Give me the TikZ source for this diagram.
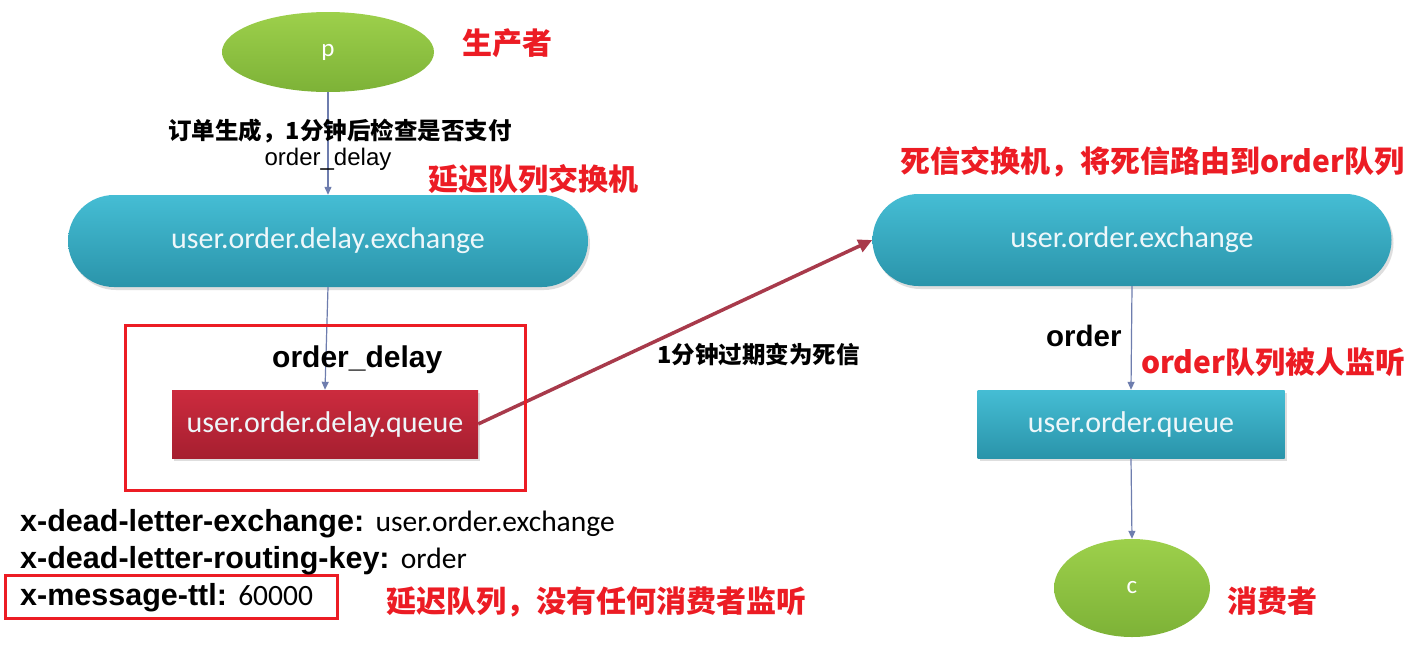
\documentclass[tikz,border=0pt]{standalone}
\usepackage{fontspec}
\setmainfont{Liberation Sans}
\newfontfamily\cjk{Noto Sans CJK SC}
\newfontfamily\calfont{Carlito}
\usetikzlibrary{shapes.geometric,arrows.meta,shadows}
\definecolor{tealA}{HTML}{45BDD4}
\definecolor{tealB}{HTML}{2A94AA}
\definecolor{redA}{HTML}{CC2B3E}
\definecolor{redB}{HTML}{A61F30}
\definecolor{greenA}{HTML}{9DD04B}
\definecolor{greenB}{HTML}{7DB237}
\definecolor{hlred}{HTML}{EC1C24}
\definecolor{thinarrow}{HTML}{6E7DAE}
\definecolor{deadarrow}{HTML}{A83A4B}
\definecolor{nodetext}{HTML}{EEF7FA}
\tikzset{
  pill/.style={rectangle, rounded corners=46pt, minimum width=520pt, minimum height=92pt,
    top color=tealA, bottom color=tealB, draw=none, text=nodetext,
    font=\calfont\fontsize{30}{34}\selectfont,
    drop shadow={shadow xshift=2pt, shadow yshift=-3pt, fill=black!25, opacity=.5}},
  qbox/.style={rectangle, minimum height=68pt, draw=none, text=nodetext,
    font=\calfont\fontsize{30}{34}\selectfont,
    drop shadow={shadow xshift=2pt, shadow yshift=-3pt, fill=black!25, opacity=.5}},
  client/.style={ellipse, top color=greenA, bottom color=greenB, draw=none, text=white,
    font=\calfont\fontsize{25}{28}\selectfont},
  flow/.style={draw=thinarrow, line width=1.2pt, -{Triangle[length=8pt,width=7pt]}},
  redlabel/.style={text=hlred, font=\cjk\bfseries\fontsize{30}{34}\selectfont, inner sep=0pt, anchor=west},
  blacklabel/.style={text=black, inner sep=0pt},
  hlbox/.style={draw=hlred, line width=3pt},
}
\begin{document}
\begin{tikzpicture}[x=1pt,y=-1pt]
\useasboundingbox (0,0) rectangle (1428,654);
\fill[white] (0,0) rectangle (1428,654);

% nodes
\node[client, minimum width=212pt, minimum height=80pt] (p) at (328,52) {p};
\node[pill] (dx) at (328,241) {user.order.delay.exchange};
\node[qbox, minimum width=306pt, top color=redA, bottom color=redB] (dq) at (325,424) {user.order.delay.queue};
\node[pill, minimum width=519pt] (ox) at (1132,240) {user.order.exchange};
\node[qbox, minimum width=307pt, top color=tealA, bottom color=tealB] (oq) at (1131,424) {user.order.queue};
\node[client, minimum width=156pt, minimum height=98pt] (c) at (1132,588) {c};

% connectors
\draw[flow] (p.south) -- (dx.north);
\draw[flow] (dx.south) -- (dq.north);
\draw[flow] (ox.south) -- (oq.north);
\draw[flow] (oq.south) -- (c.north);
\draw[draw=deadarrow, line width=3.5pt, -{Triangle[length=14pt,width=13pt]}] (dq.east) -- (ox.west);

% highlight boxes
\draw[hlbox] (125,325) rectangle (525,490);
\draw[hlbox] (5,575) rectangle (337,618);

% labels
\node[blacklabel, font=\cjk\bfseries\fontsize{23.5}{28}\selectfont] (l1) at (340,131) {订单生成，1分钟后检查是否支付};
\node[blacklabel, font=\fontsize{24}{28}\selectfont] (l2) at (328,159) {order\_delay};
\node[blacklabel, anchor=west, font=\bfseries\fontsize{30}{34}\selectfont] (l3) at (272,360) {order\_delay};
\node[blacklabel, anchor=west, font=\cjk\bfseries\fontsize{23.5}{27}\selectfont] (l4) at (657,354) {1分钟过期变为死信};
\node[blacklabel, anchor=west, font=\bfseries\fontsize{29.5}{33}\selectfont] (l5) at (1046,336) {order};

\node[redlabel] (r1) at (462,43) {生产者};
\node[redlabel] (r2) at (428,179) {延迟队列交换机};
\node[redlabel] (r3) at (900,162) {死信交换机，将死信路由到order队列};
\node[redlabel] (r4) at (1141,362) {order队列被人监听};
\node[redlabel] (r5) at (1227,601) {消费者};
\node[redlabel] (r6) at (386,602) {延迟队列，没有任何消费者监听};

% queue arguments
\node[blacklabel, anchor=west, font=\bfseries\fontsize{30.5}{34}\selectfont] (a1) at (20,524) {x-dead-letter-exchange: {\mdseries\calfont\fontsize{29.5}{33}\selectfont user.order.exchange}};
\node[blacklabel, anchor=west, font=\bfseries\fontsize{30.5}{34}\selectfont] (a2) at (20,561) {x-dead-letter-routing-key: {\mdseries\calfont\fontsize{29.5}{33}\selectfont order}};
\node[blacklabel, anchor=west, font=\bfseries\fontsize{30.5}{34}\selectfont] (a3) at (20,598) {x-message-ttl: {\mdseries\calfont\fontsize{29.5}{33}\selectfont 60000}};
\end{tikzpicture}
\end{document}
